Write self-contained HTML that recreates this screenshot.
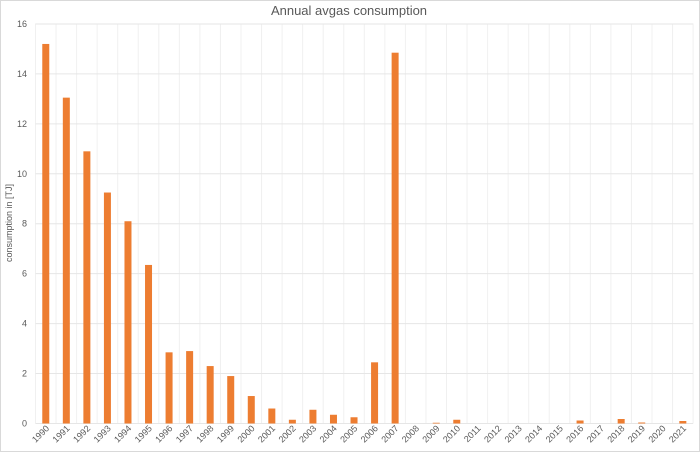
<!DOCTYPE html>
<html><head><meta charset="utf-8"><style>
html,body{margin:0;padding:0;background:#fff}
svg{display:block;font-family:"Liberation Sans",sans-serif}
</style></head><body>
<svg width="700" height="453" xmlns="http://www.w3.org/2000/svg">
<rect x="0.5" y="0.5" width="699" height="451" fill="#fff" stroke="#d9d9d9"/>
<text x="349" y="15" text-anchor="middle" font-size="13" fill="#595959">Annual avgas consumption</text>
<text transform="translate(12,223) rotate(-90)" text-anchor="middle" font-size="9" fill="#595959">consumption in [TJ]</text>
<g id="g"></g>
</svg>
<script>
var vals=[15.2,13.05,10.9,9.25,8.1,6.35,2.85,2.9,2.3,1.9,1.1,0.6,0.15,0.55,0.35,0.25,2.45,14.85,0,0.03,0.15,0,0,0,0,0,0.12,0,0.18,0.04,0,0.1];
var L=35.5,W=20.55,B=423.5,S=24.97,h='';
for(var i=0;i<=32;i++){var x=L+i*W;h+='<line x1="'+x+'" y1="23.5" x2="'+x+'" y2="'+B+'" stroke="#f0f0f0"/>';}
for(var v=0;v<=16;v+=2){var y=B-v*S;h+='<line x1="'+L+'" y1="'+y+'" x2="'+(L+32*W)+'" y2="'+y+'" stroke="#e6e6e6"/>';
h+='<text x="27" y="'+(y+3)+'" text-anchor="end" font-size="9" fill="#595959">'+v+'</text>';}
for(var i=0;i<32;i++){var c=L+(i+0.5)*W,hh=vals[i]*S;
if(hh>0)h+='<rect x="'+(c-3.5)+'" y="'+(B-hh)+'" width="7" height="'+hh+'" fill="#ed7d31"/>';
h+='<text transform="translate('+(c+4)+',429) rotate(-45)" text-anchor="end" font-size="9" fill="#595959">'+(1990+i)+'</text>';}
document.getElementById('g').innerHTML=h;
</script>
</body></html>
